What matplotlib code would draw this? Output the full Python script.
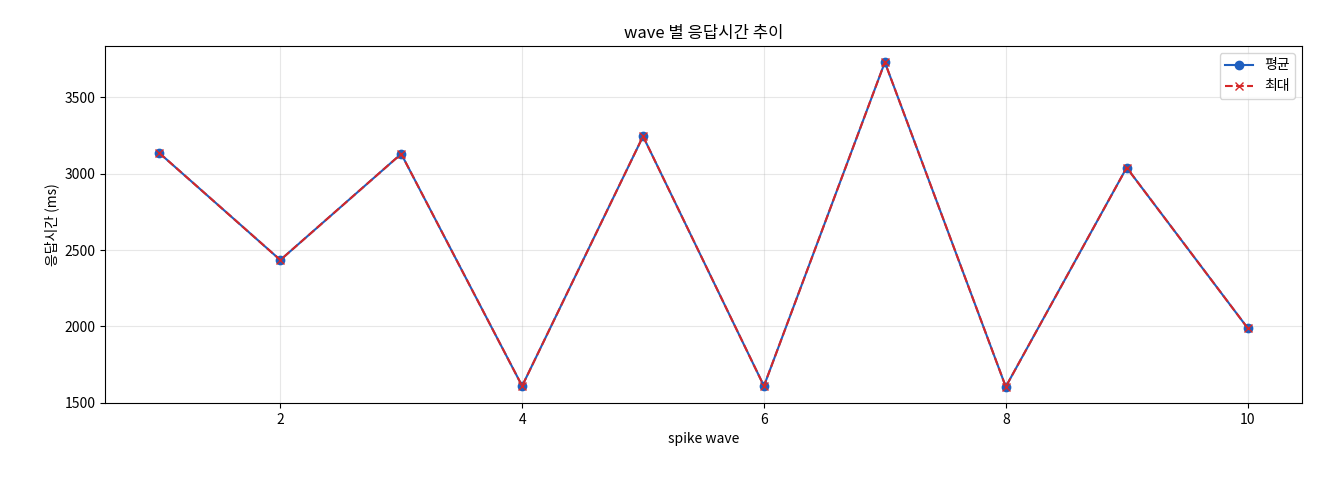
import matplotlib
matplotlib.use("Agg")
import matplotlib.pyplot as plt

plt.rcParams['font.family'] = ['Noto Sans CJK KR', 'DejaVu Sans']

waves = [1, 2, 3, 4, 5, 6, 7, 8, 9, 10]
avg_ms = [3135, 2435, 3130, 1610, 3245, 1610, 3730, 1605, 3040, 1990]
max_ms = [3135, 2435, 3130, 1610, 3245, 1610, 3730, 1605, 3040, 1990]

fig = plt.figure(figsize=(13.2, 4.8), dpi=100)
ax = fig.add_axes([105/1320, 1-403/480, (1302-105)/1320, (403-46)/480])
ax.plot(waves, avg_ms, marker='o', color='#1f5fbf', label='평균', markersize=6)
ax.plot(waves, max_ms, marker='x', linestyle='--', color='#d62728', label='최대', markersize=6)
ax.set_title('wave 별 응답시간 추이', fontsize=12)
ax.set_xlabel('spike wave', fontsize=10)
ax.set_ylabel('응답시간 (ms)', fontsize=10)
ax.set_yticks([1500, 2000, 2500, 3000, 3500])
ax.grid(True, alpha=0.3)
ax.legend(loc='upper right')
fig.savefig('out.png', dpi=100)
